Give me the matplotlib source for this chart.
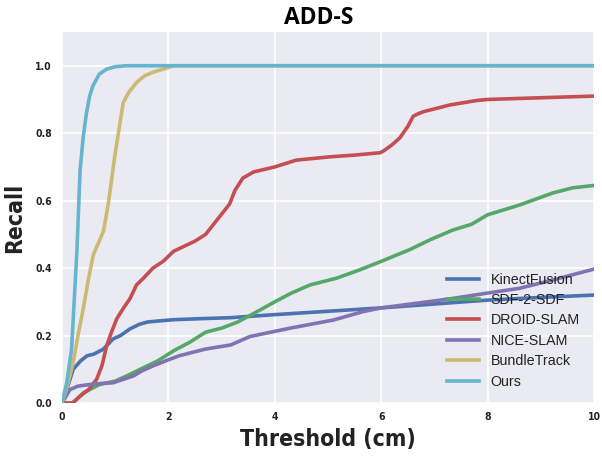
import matplotlib
matplotlib.use('Agg')
import matplotlib.pyplot as plt
from matplotlib import font_manager

# threshold (cm) / recall curves
kf_x = [0, 0.09, 0.21, 0.35, 0.47, 0.6, 0.78, 0.96, 1.1, 1.28, 1.45, 1.6, 1.8, 2.1, 2.6, 3.17, 4, 5, 6, 7.3, 8, 9, 10]
kf_y = [0, 0.04, 0.1, 0.125, 0.14, 0.145, 0.16, 0.19, 0.2, 0.22, 0.233, 0.24, 0.243, 0.247, 0.25, 0.253, 0.262, 0.272, 0.282, 0.297, 0.305, 0.313, 0.32]

sdf_x = [0, 0.2, 0.4, 0.71, 1.0, 1.28, 1.47, 1.8, 2.1, 2.4, 2.7, 3.0, 3.3, 3.6, 4.0, 4.3, 4.66, 5.16, 5.6, 6.0,
         6.54, 6.92, 7.35, 7.7, 8.0, 8.6, 9.23, 9.6, 10]
sdf_y = [0, 0, 0.03, 0.055, 0.065, 0.085, 0.10, 0.125, 0.155, 0.18, 0.21, 0.222, 0.24, 0.265, 0.30, 0.325, 0.35, 0.37, 0.395, 0.42,
         0.455, 0.484, 0.513, 0.53, 0.558, 0.587, 0.623, 0.638, 0.645]

droid_x = [0, 0.2, 0.34, 0.5, 0.65, 0.75, 0.84, 0.93, 1.03, 1.15, 1.28, 1.4, 1.53, 1.71, 1.9, 2.1, 2.3, 2.5, 2.7, 2.85,
           3.0, 3.15, 3.25, 3.4, 3.6, 4.0, 4.4, 5.04, 5.5, 5.98, 6.05, 6.2, 6.35, 6.5, 6.6, 6.7, 6.8, 7.3, 7.8, 8.0, 9.0, 10]
droid_y = [0, 0, 0.02, 0.04, 0.07, 0.11, 0.17, 0.21, 0.25, 0.28, 0.31, 0.35, 0.37, 0.40, 0.42, 0.45, 0.465, 0.48, 0.50, 0.53,
           0.56, 0.59, 0.63, 0.667, 0.685, 0.70, 0.72, 0.73, 0.735, 0.742, 0.748, 0.765, 0.786, 0.82, 0.85, 0.858, 0.864, 0.884, 0.897, 0.9, 0.905, 0.91]

nice_x = [0, 0.15, 0.3, 0.53, 0.75, 0.96, 1.15, 1.34, 1.5, 1.71, 1.95, 2.2, 2.7, 3.17, 3.53, 4.29, 5.1, 5.66, 6.0, 7.3, 8.0, 8.6, 9.23, 10]
nice_y = [0, 0.04, 0.05, 0.055, 0.058, 0.06, 0.07, 0.08, 0.095, 0.11, 0.125, 0.14, 0.16, 0.172, 0.197, 0.222, 0.246, 0.271, 0.282, 0.309, 0.326, 0.34, 0.365, 0.397]

bt_x = [0, 0.1, 0.21, 0.3, 0.4, 0.5, 0.59, 0.7, 0.78, 0.87, 0.93, 1.0, 1.08, 1.15, 1.25, 1.4, 1.55, 1.7, 1.9, 2.1, 2.5, 10]
bt_y = [0, 0.05, 0.12, 0.2, 0.28, 0.37, 0.44, 0.48, 0.51, 0.59, 0.66, 0.74, 0.82, 0.89, 0.92, 0.95, 0.97, 0.98, 0.99, 1.0, 1.0, 1.0]

ours_x = [0, 0.09, 0.18, 0.28, 0.34, 0.4, 0.46, 0.52, 0.58, 0.7, 0.84, 1.0, 1.2, 1.6, 2.5, 10]
ours_y = [0, 0.06, 0.16, 0.45, 0.69, 0.79, 0.86, 0.91, 0.94, 0.975, 0.99, 0.997, 1.0, 1.0, 1.0, 1.0]

methods = ['KinectFusion', 'SDF-2-SDF', 'DROID-SLAM', 'NICE-SLAM', 'BundleTrack', 'Ours']
colors = ['#4C72B0', '#55A868', '#C44E52', '#8172B2', '#CCB974', '#64B5CD']
curves = [(kf_x, kf_y), (sdf_x, sdf_y), (droid_x, droid_y), (nice_x, nice_y), (bt_x, bt_y), (ours_x, ours_y)]

# the labels in the original are a narrow bold sans; use a condensed face if one is installed
narrow = None
for f in font_manager.fontManager.ttflist:
    if f.stretch in ('condensed', 'semi-condensed') and f.name in ('DejaVu Sans', 'Liberation Sans Narrow', 'Open Sans', 'Roboto', 'Noto Sans'):
        narrow = f.name
        break
if narrow is None:
    narrow = 'Liberation Sans'
    label_size = 14.5
else:
    label_size = 16.5

fig = plt.figure(figsize=(6.02, 4.57), dpi=100)
ax = fig.add_axes([62 / 602, 1 - 403 / 457, 532 / 602, 371 / 457])
ax.set_facecolor('#EAEAF2')
for s in ax.spines.values():
    s.set_visible(False)
ax.grid(True, color='white', linewidth=1.2)
ax.set_axisbelow(True)

for (x, y), name, c in zip(curves, methods, colors):
    ax.plot(x, y, color=c, linewidth=2.6, label=name)

ax.set_xlim(0, 10)
ax.set_ylim(0, 1.1)
ax.set_xticks([0, 2, 4, 6, 8, 10])
ax.set_yticks([0.0, 0.2, 0.4, 0.6, 0.8, 1.0])
ax.set_yticklabels(['0.0', '0.2', '0.4', '0.6', '0.8', '1.0'])
ax.tick_params(length=0, labelsize=7.5)
ax.tick_params(axis='y', pad=7.2)
ax.tick_params(axis='x', pad=6.5)
for lab in ax.get_xticklabels() + ax.get_yticklabels():
    lab.set_fontfamily(narrow)
    lab.set_fontstretch('condensed')
    lab.set_fontweight('bold')
    lab.set_color('#222222')

ax.set_xlabel('Threshold (cm)', fontsize=label_size, fontweight='bold', family=narrow,
              fontstretch='condensed', color='#222222')
ax.xaxis.set_label_coords(0.5, -0.067)
ax.set_ylabel('Recall', fontsize=label_size, fontweight='bold', family=narrow,
              fontstretch='condensed', color='#222222')
ax.yaxis.set_label_coords(-0.068, 0.5)

fig.text(319 / 602, 1 - 18.5 / 457, 'ADD-S', fontsize=16.5, fontweight='bold', family='Open Sans',
         ha='center', va='center')

leg = ax.legend(loc='lower right', frameon=False, fontsize=10.3, handlelength=2.25, handletextpad=0.8,
                borderaxespad=0.6, labelspacing=0.45)
for t in leg.get_texts():
    t.set_fontfamily('Liberation Sans')
    t.set_color('#222222')

plt.savefig('out.png', dpi=100)
